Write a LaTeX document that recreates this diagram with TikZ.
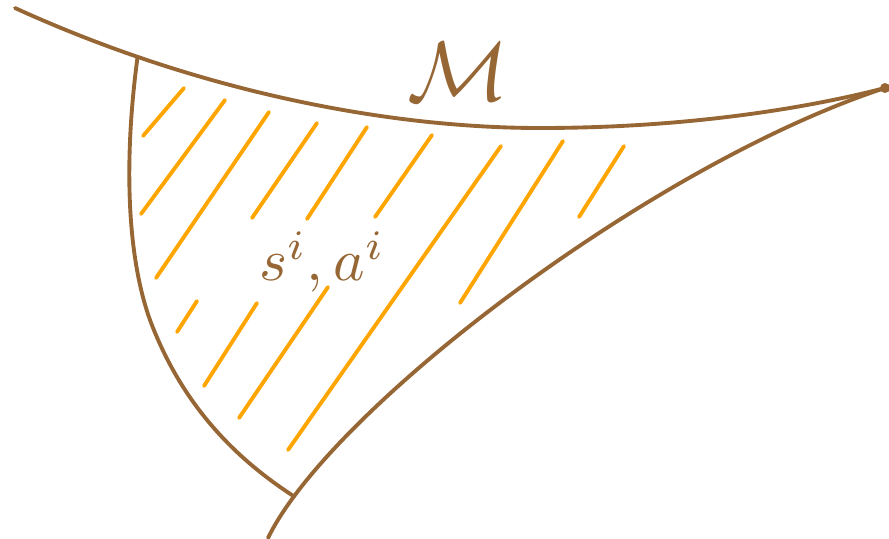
\documentclass[tikz,border=0pt]{standalone}
\usepackage{tikz}

\definecolor{manibrown}{RGB}{150,102,52}
\definecolor{hatchorange}{RGB}{255,165,0}

\begin{document}
\begin{tikzpicture}[x=0.02cm, y=-0.02cm, line cap=round]
  \useasboundingbox (0,0) rectangle (889,538);
  % hatching
  \foreach \xa/\ya/\xb/\yb in {143/136/184/88, 141/214/225/100, 156/278/269/112,
      252/218/317/123, 307/219/367/127, 375/217/432/135, 288/450/501/146,
      460/303/563/141, 579/217/624/146, 177/332/197/301, 204/386/257/303,
      239/418/328/287}
    \draw[hatchorange, line width=2.2pt] (\xa,\ya) -- (\xb,\yb);
  % the three boundary curves
  \draw[manibrown, line width=2.2pt] (15,8) .. controls (190,88) and (380,128) .. (540,128)
    coordinate[pos=0.23] (topjoin)
    .. controls (680,128) and (800,110) .. (885,88) coordinate (tip);
  \draw[manibrown, line width=2.2pt] (tip) .. controls (650,165) and (330,410) .. (268,538)
    coordinate[pos=0.9] (lowjoin);
  \draw[manibrown, line width=2.2pt] (topjoin) .. controls (125,150) and (125,250) .. (150,320)
    .. controls (180,400) and (230,455) .. (lowjoin);
  \fill[manibrown] (tip) circle (5);
  % labels
  \node[manibrown, scale=4.8] (mlabel) at (458,72) {$\mathcal{M}$};
  \node[manibrown, scale=3.4] (salabel) at (322,262) {$s^i, a^i$};
\end{tikzpicture}
\end{document}
